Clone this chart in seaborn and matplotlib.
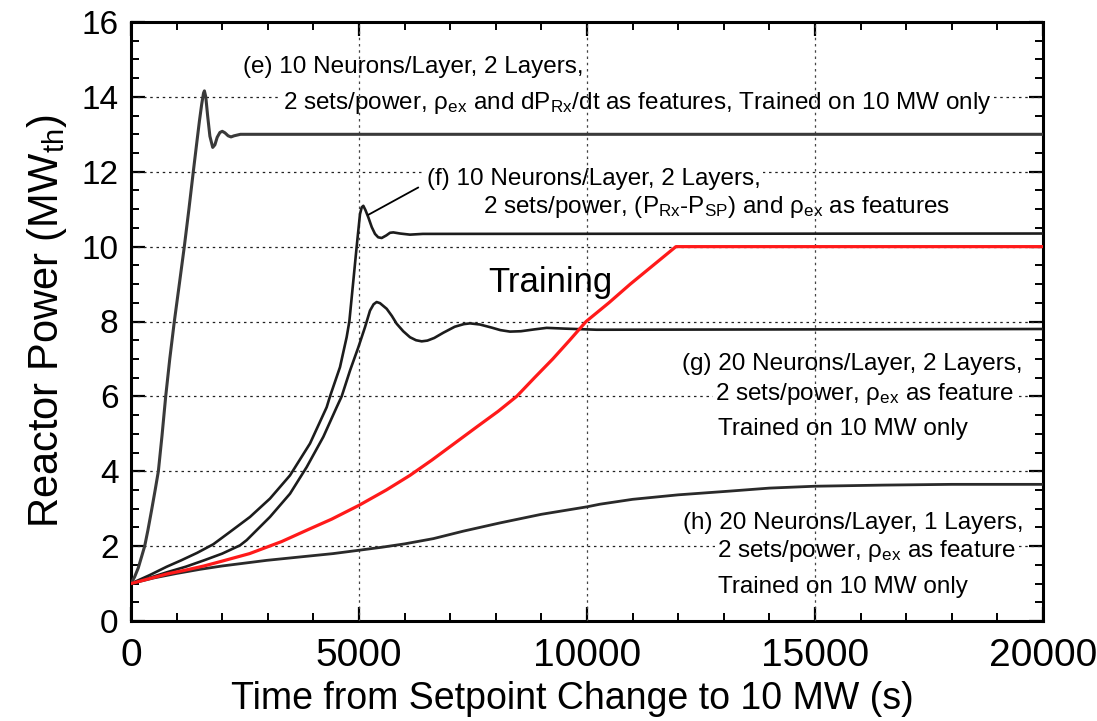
import numpy as np
import pandas as pd
import matplotlib
matplotlib.use("Agg")
import matplotlib.pyplot as plt
import seaborn as sns

# Reactor power response (MWth) vs. time after setpoint change (s)
t_e = [0, 80, 160, 240, 300, 370, 450, 530, 600, 680, 761, 850, 950, 1060, 1169,
       1270, 1366, 1440, 1500, 1550, 1590, 1610, 1640, 1680, 1730, 1792, 1840,
       1890, 1950, 2002, 2060, 2130, 2193, 2260, 2400, 20000]
p_e = [1.0, 1.18, 1.42, 1.75, 2.0, 2.42, 2.95, 3.5, 4.0, 4.95, 6.0, 7.0, 8.0, 9.0,
       10.0, 11.0, 12.0, 12.75, 13.35, 13.8, 14.1, 14.16, 14.0, 13.5, 12.95, 12.65,
       12.72, 12.92, 13.05, 13.08, 13.04, 12.96, 12.93, 12.96, 13.0, 13.0]

t_f = [0, 400, 783, 1100, 1450, 1805, 2171, 2610, 3048, 3487, 3925, 4291, 4364,
       4583, 4729, 4788, 4876, 4949, 5022, 5060, 5095, 5140, 5205, 5280, 5351,
       5420, 5497, 5600, 5680, 5753, 5900, 6118, 6400, 20000]
p_f = [1.0, 1.22, 1.45, 1.62, 1.82, 2.05, 2.38, 2.78, 3.27, 3.89, 4.74, 5.71, 6.0,
       6.78, 7.58, 8.0, 9.09, 10.0, 10.87, 11.05, 11.09, 10.98, 10.78, 10.52, 10.34,
       10.25, 10.23, 10.3, 10.37, 10.38, 10.35, 10.32, 10.34, 10.35]

t_g = [0, 400, 783, 1200, 1600, 2000, 2390, 2537, 3048, 3487, 3852, 4218, 4510,
       4620, 4803, 4985, 5132, 5241, 5320, 5387, 5460, 5607, 5720, 5826, 5970,
       6118, 6250, 6375, 6500, 6650, 6849, 7100, 7300, 7434, 7650, 7900, 8100,
       8311, 8550, 8850, 9116, 9500, 10212, 20000]
p_g = [1.0, 1.15, 1.3, 1.45, 1.62, 1.8, 2.02, 2.16, 2.78, 3.4, 4.11, 4.92, 5.71,
       6.0, 6.69, 7.31, 7.85, 8.29, 8.46, 8.52, 8.49, 8.34, 8.15, 7.94, 7.74,
       7.58, 7.5, 7.47, 7.49, 7.56, 7.7, 7.86, 7.93, 7.95, 7.92, 7.84, 7.77,
       7.73, 7.74, 7.79, 7.83, 7.81, 7.78, 7.8]

t_h = [0, 500, 1000, 1513, 2000, 2976, 3700, 4430, 5000, 5500, 6000, 6630, 7288,
       8092, 9000, 10000, 10285, 11000, 12000, 13136, 14000, 15000, 16500, 18000,
       20000]
p_h = [1.0, 1.15, 1.27, 1.38, 1.47, 1.62, 1.71, 1.8, 1.89, 1.97, 2.06, 2.2, 2.4,
       2.62, 2.85, 3.05, 3.12, 3.25, 3.37, 3.47, 3.55, 3.6, 3.63, 3.65, 3.65]

t_train = [0, 400, 800, 1200, 1600, 2000, 2600, 3300, 3900, 4400, 5000, 5600,
           6118, 6600, 7100, 7600, 8050, 8458, 8850, 9250, 9620, 9980, 10480,
           10950, 11450, 11950, 20000]
p_train = [1.0, 1.13, 1.26, 1.36, 1.47, 1.6, 1.8, 2.12, 2.45, 2.72, 3.09, 3.5,
           3.89, 4.3, 4.75, 5.2, 5.6, 6.0, 6.5, 7.0, 7.5, 8.0, 8.5, 9.0, 9.5,
           10.0, 10.0]

x_ticks = [0, 5000, 10000, 15000, 20000]
y_ticks = [0, 2, 4, 6, 8, 10, 12, 14, 16]

sns.set_theme(style="ticks")
plt.rcParams["font.family"] = ["Liberation Sans", "DejaVu Sans"]
plt.rcParams["mathtext.fontset"] = "custom"
plt.rcParams["mathtext.rm"] = "Liberation Sans"
plt.rcParams["mathtext.it"] = "Liberation Sans:italic"
for key in ["text.color", "axes.labelcolor", "xtick.color", "ytick.color",
            "axes.edgecolor"]:
    plt.rcParams[key] = "black"

fig = plt.figure(figsize=(10.97, 7.21), dpi=100)
ax = fig.add_axes([131 / 1097, 1 - 621 / 721, (1043 - 131) / 1097, (621 - 22) / 721])

dark = "#1c1c1c"
kw = dict(ax=ax, sort=False, estimator=None)
sns.lineplot(x=t_h, y=p_h, color="#2a2a2a", lw=2.0, zorder=6, **kw)
sns.lineplot(x=t_g, y=p_g, color=dark, lw=1.9, zorder=6, **kw)
sns.lineplot(x=t_f, y=p_f, color=dark, lw=1.9, zorder=6, **kw)
sns.lineplot(x=t_e, y=p_e, color="#3a3a3a", lw=2.2, zorder=6, **kw)
sns.lineplot(x=t_train, y=p_train, color="#ff1a1a", lw=2.3, zorder=7, **kw)

ax.set_xlim(0, 20000)
ax.set_ylim(0, 16)
ax.set_xticks(x_ticks)
ax.set_yticks(y_ticks)
ax.set_xticks(np.arange(0, 20001, 1000), minor=True)
ax.set_yticks(np.arange(0, 16.01, 0.5), minor=True)
ax.set_xticklabels([str(v) for v in x_ticks], fontsize=28)
ax.set_yticklabels([str(v) for v in y_ticks], fontsize=24)
ax.tick_params(which="major", direction="in", length=10, width=1.6, top=True, right=True)
ax.tick_params(which="minor", direction="in", length=6, width=1.4, top=True, right=True)
ax.tick_params(axis="x", pad=12)
ax.tick_params(axis="y", pad=9)
for s in ax.spines.values():
    s.set_linewidth(2.2)

# dotted reference grid
for yv in y_ticks[1:-1]:
    ax.axhline(yv, color="#222222", lw=0.9, ls=(0, (2, 3)), zorder=1)
for xv in x_ticks[1:-1]:
    ax.axvline(xv, color="#444444", lw=0.9, ls=(0, (2, 3)), zorder=4)

ax.set_xlabel("Time from Setpoint Change to 10 MW (s)", fontsize=27)
ax.xaxis.set_label_coords(0.484, -0.1)
ax.set_ylabel(r"Reactor Power (MW$_{\mathrm{th}}$)", fontsize=30, labelpad=9)

box = dict(facecolor="white", edgecolor="none", pad=1.5)
fs = 17.5
sub = lambda s: r"$_{\mathrm{" + s + "}}$"

def note(x, y, s):
    ax.text(x, y, s, fontsize=fs, ha="left", va="baseline", bbox=box, zorder=3)

note(2456, 14.64, "(e) 10 Neurons/Layer, 2 Layers,")
note(3333, 13.68, "2 sets/power, ρ" + sub("ex") + " and dP" + sub("Rx") +
     "/dt as features, Trained on 10 MW only")
note(6491, 11.65, "(f) 10 Neurons/Layer, 2 Layers,")
note(7719, 10.9, "2 sets/power, (P" + sub("Rx") + "-P" + sub("SP") + ") and ρ" +
     sub("ex") + " as features")
ax.plot([5205, 6300], [10.85, 11.58], color="black", lw=1.3, zorder=6)
ax.text(9190, 8.78, "Training", fontsize=25, ha="center", va="baseline", zorder=8)

note(12083, 6.71, "(g) 20 Neurons/Layer, 2 Layers,")
note(12807, 5.89, "2 sets/power, ρ" + sub("ex") + " as feature")
note(12873, 4.96, "Trained on 10 MW only")
note(12105, 2.47, "(h) 20 Neurons/Layer, 1 Layers,")
note(12851, 1.71, "2 sets/power, ρ" + sub("ex") + " as feature")
note(12873, 0.74, "Trained on 10 MW only")

fig.savefig("out.png", dpi=100)
